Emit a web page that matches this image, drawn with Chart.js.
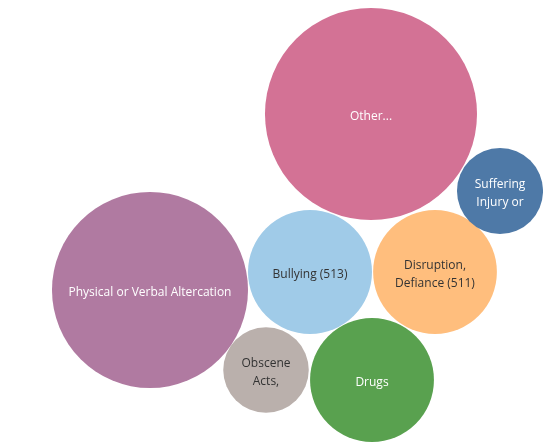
<!DOCTYPE html>
<html>
<head>
<meta charset="utf-8">
<script src="https://cdn.jsdelivr.net/npm/chart.js@4.4.0/dist/chart.umd.min.js"></script>
<style>
    html, body { margin: 0; padding: 0; background: #ffffff; }
    #wrap { width: 543px; height: 443px; }
</style>
</head>
<body>
<div id="wrap"><canvas id="bubbles"></canvas></div>
<script>
// Incident categories and counts
const categories = [
    'Other...',
    'Physical or Verbal Altercation',
    'Bullying (513)',
    'Disruption, Defiance (511)',
    'Drugs',
    'Suffering Injury or',
    'Obscene Acts,'
];
const counts = [1500, 1282, 513, 511, 512, 247, 244];

// Label lines as shown inside each bubble
const labelLines = [
    ['Other...'],
    ['Physical or Verbal Altercation'],
    ['Bullying (513)'],
    ['Disruption,', 'Defiance (511)'],
    ['Drugs'],
    ['Suffering', 'Injury or'],
    ['Obscene', 'Acts,']
];

// Packed layout (bubble centres in the view's coordinate space)
const layoutX = [371, 150, 310, 435, 372, 500, 266];
const layoutY = [114, 290, 272, 272, 380, 191, 370];

const colors = ['#d37295', '#b07aa1', '#a0cbe8', '#ffbe7d', '#59a14f', '#4e79a7', '#bab0ac'];
const textColors = ['#ffffff', '#ffffff', '#333333', '#333333', '#ffffff', '#ffffff', '#333333'];

// Area-proportional size: radius grows with sqrt(count)
const sizeFactor = 62 / Math.sqrt(513);

const points = categories.map((c, i) => ({
    x: layoutX[i],
    y: layoutY[i],
    r: sizeFactor * Math.sqrt(counts[i])
}));

// Packed bubbles fill the whole view, so drop the extra padding
// bubble charts normally add around the chart area
Chart.BubbleController.prototype.getMaxOverflow = function () {
    return false;
};

// Draw the text labels centred on each bubble
const bubbleLabels = {
    id: 'bubbleLabels',
    afterDatasetsDraw(chart) {
        const ctx = chart.ctx;
        const meta = chart.getDatasetMeta(0);
        ctx.save();
        ctx.font = '12px "Open Sans", sans-serif';
        ctx.textAlign = 'center';
        ctx.textBaseline = 'middle';
        meta.data.forEach((el, i) => {
            const lines = labelLines[i];
            const lh = 18;
            // text sits a touch below the centre in the original
            const top = el.y + 3 - (lines.length - 1) * lh / 2;
            ctx.fillStyle = textColors[i];
            lines.forEach((ln, j) => ctx.fillText(ln, el.x, top + j * lh));
        });
        ctx.restore();
    }
};

new Chart(document.getElementById('bubbles'), {
    type: 'bubble',
    data: {
        labels: categories,
        datasets: [{
            data: points,
            backgroundColor: colors,
            borderWidth: 0,
            hoverBorderWidth: 0,
            clip: false
        }]
    },
    options: {
        responsive: true,
        maintainAspectRatio: false,
        animation: false,
        events: [],
        layout: { padding: 0 },
        plugins: {
            legend: { display: false },
            tooltip: { enabled: false }
        },
        scales: {
            x: { type: 'linear', min: 0, max: 543, display: false },
            y: { type: 'linear', min: 0, max: 443, reverse: true, display: false }
        }
    },
    plugins: [bubbleLabels]
});
</script>
</body>
</html>
